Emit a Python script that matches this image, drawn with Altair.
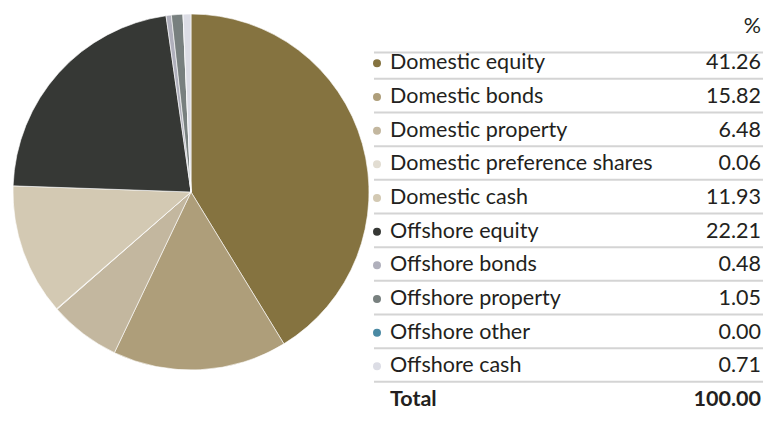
import altair as alt
import pandas as pd

categories = ["Domestic equity", "Domestic bonds", "Domestic property",
              "Domestic preference shares", "Domestic cash", "Offshore equity",
              "Offshore bonds", "Offshore property", "Offshore other", "Offshore cash"]
values = [41.26, 15.82, 6.48, 0.06, 11.93, 22.21, 0.48, 1.05, 0.00, 0.71]
colors = ["#857340", "#ae9e7a", "#c3b79f", "#e2ddd2", "#d3c9b3",
          "#363835", "#b0b0bc", "#78807f", "#4a89a3", "#dcdde5"]
total_label = "Total"
total_value = "100.00"
header = "%"

FONT = "Lato"
FS = 21.5
TXT = "#231f20"

df = pd.DataFrame({
    "cat": categories,
    "val": values,
    "order": list(range(len(categories))),
    "row": list(range(len(categories))),
    "txt": [f"{v:.2f}" for v in values],
})

color_scale = alt.Scale(domain=categories, range=colors)
yscale = alt.Scale(domain=[-1.08, 10], range=[19, 392])

pie = alt.Chart(df).mark_arc(stroke="white", strokeWidth=0.6).encode(
    theta=alt.Theta("val:Q", stack=True),
    color=alt.Color("cat:N", scale=color_scale, legend=None),
    order=alt.Order("order:Q"),
    x=alt.value(183), y=alt.value(184),
    radius=alt.value(178),
)

seps = pd.DataFrame({"row": [-0.32] + [i + 0.46 for i in range(10)]})
rules = alt.Chart(seps).mark_rule(color="#d4d4d4", strokeWidth=2).encode(
    y=alt.Y("row:Q", scale=yscale, axis=None),
    x=alt.value(366), x2=alt.value(755),
)

dots = alt.Chart(df).mark_circle(size=64, opacity=1).encode(
    y=alt.Y("row:Q", scale=yscale, axis=None),
    x=alt.value(369),
    color=alt.Color("cat:N", scale=color_scale, legend=None),
)

labels = alt.Chart(df).mark_text(align="left", baseline="middle", font=FONT,
                                 fontSize=FS, color=TXT).encode(
    y=alt.Y("row:Q", scale=yscale, axis=None),
    x=alt.value(382), text="cat:N",
)
nums = alt.Chart(df).mark_text(align="right", baseline="middle", font=FONT,
                               fontSize=FS, color=TXT).encode(
    y=alt.Y("row:Q", scale=yscale, axis=None),
    x=alt.value(753), text="txt:N",
)

tot = pd.DataFrame({"row": [10], "lab": [total_label], "v": [total_value]})
tot_lab = alt.Chart(tot).mark_text(align="left", baseline="middle", font=FONT,
                                   fontSize=FS, fontWeight="bold", color=TXT).encode(
    y=alt.Y("row:Q", scale=yscale, axis=None), x=alt.value(382), text="lab:N")
tot_val = alt.Chart(tot).mark_text(align="right", baseline="middle", font=FONT,
                                   fontSize=FS, fontWeight="bold", color=TXT).encode(
    y=alt.Y("row:Q", scale=yscale, axis=None), x=alt.value(753), text="v:N")

hdr = pd.DataFrame({"row": [-1.08], "t": [header]})
hdr_t = alt.Chart(hdr).mark_text(align="right", baseline="middle", font=FONT,
                                 fontSize=FS, color=TXT).encode(
    y=alt.Y("row:Q", scale=yscale, axis=None), x=alt.value(753), text="t:N")

chart = alt.layer(pie, rules, dots, labels, nums, tot_lab, tot_val, hdr_t).properties(
    width=755, height=405, autosize=alt.AutoSizeParams(type="none"), padding=0
).configure_view(stroke=None)

chart.save("out.html", embed_options={"renderer": "svg", "actions": False})
